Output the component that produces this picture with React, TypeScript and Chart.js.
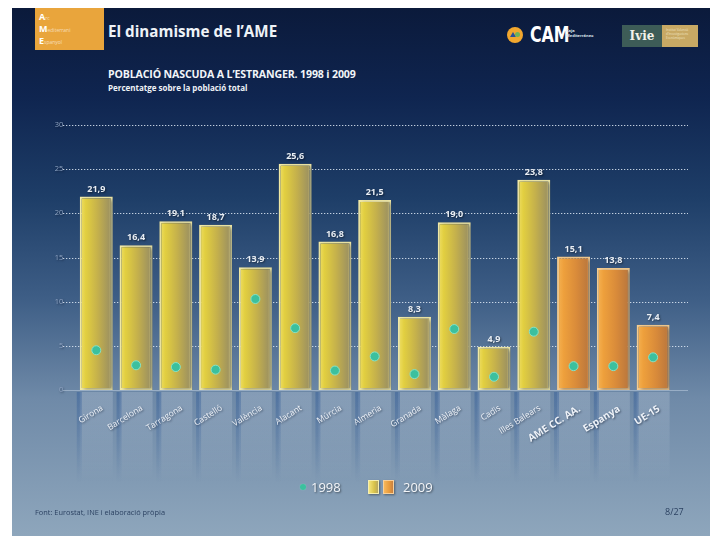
import React, { useEffect, useRef } from "react";
import { Chart, registerables } from "chart.js";

Chart.register(...registerables);

// ---------- data ----------
const categories = [
  "Girona", "Barcelona", "Tarragona", "Castelló", "València", "Alacant", "Múrcia",
  "Almeria", "Granada", "Màlaga", "Cadis", "Illes Balears", "AME CC. AA.", "Espanya", "UE-15",
];
const values2009 = [21.9, 16.4, 19.1, 18.7, 13.9, 25.6, 16.8, 21.5, 8.3, 19.0, 4.9, 23.8, 15.1, 13.8, 7.4];
const values1998 = [4.5, 2.8, 2.6, 2.3, 10.3, 7.0, 2.2, 3.8, 1.8, 6.9, 1.5, 6.6, 2.7, 2.7, 3.7];
const aggregates = ["AME CC. AA.", "Espanya", "UE-15"];
const yTicks = [0, 5, 10, 15, 20, 25, 30];
const seriesNames = ["1998", "2009"];

const isAgg = (i: number) => aggregates.includes(categories[i]);
const fmt = (v: number) => v.toFixed(1).replace(".", ",");

const FONT = "'Open Sans', 'Noto Sans', sans-serif";

function barGradient(ctx: CanvasRenderingContext2D, cx: number, hw: number, agg: boolean) {
  const g = ctx.createLinearGradient(cx - hw, 0, cx + hw, 0);
  if (agg) {
    g.addColorStop(0, "#f6b455");
    g.addColorStop(0.2, "#eea03c");
    g.addColorStop(0.6, "#d88a3a");
    g.addColorStop(0.9, "#bf7a3c");
    g.addColorStop(1, "#e0a060");
  } else {
    g.addColorStop(0, "#f0e06a");
    g.addColorStop(0.18, "#e2cf40");
    g.addColorStop(0.55, "#c4b04c");
    g.addColorStop(0.88, "#a1955e");
    g.addColorStop(1, "#d0c686");
  }
  return g;
}

const decorPlugin = {
  id: "decor",
  beforeDraw(chart: any) {
    const ctx = chart.ctx;
    const meta = chart.getDatasetMeta(0);
    const base = chart.scales.y.getPixelForValue(0);
    ctx.save();
    meta.data.forEach((el: any) => {
      const w = el.width;
      const l = el.x - w / 2;
      const g = ctx.createLinearGradient(0, base + 2, 0, base + 92);
      g.addColorStop(0, "rgba(235,240,248,0.2)");
      g.addColorStop(1, "rgba(235,240,248,0.0)");
      ctx.fillStyle = g;
      ctx.fillRect(l, base + 2, w, 90);
      const g2 = ctx.createLinearGradient(0, base + 2, 0, base + 92);
      g2.addColorStop(0, "rgba(40,85,150,0.4)");
      g2.addColorStop(1, "rgba(40,85,150,0.0)");
      ctx.fillStyle = g2;
      ctx.fillRect(l - 3, base + 2, 5, 90);
    });
    ctx.restore();
    // shadow for axis labels
    ctx.shadowColor = "rgba(10,20,40,0.55)";
    ctx.shadowBlur = 2;
    ctx.shadowOffsetX = 1;
    ctx.shadowOffsetY = 1;
  },
  beforeDatasetsDraw(chart: any) {
    const ctx = chart.ctx;
    ctx.shadowColor = "rgba(0,0,0,0)";
    ctx.shadowBlur = 0;
    ctx.shadowOffsetX = 0;
    ctx.shadowOffsetY = 0;
    const ys = chart.scales.y;
    const x0 = 63;
    const x1 = 688;
    ctx.save();
    yTicks.forEach((t) => {
      const y = Math.round(ys.getPixelForValue(t)) + 0.5;
      ctx.beginPath();
      if (t === 0) {
        ctx.setLineDash([]);
        ctx.strokeStyle = "rgba(190,206,224,0.55)";
      } else {
        ctx.setLineDash([1.3, 1.7]);
        ctx.strokeStyle = "rgba(225,234,246,0.85)";
      }
      ctx.lineWidth = 1;
      ctx.moveTo(x0, y);
      ctx.lineTo(x1, y);
      ctx.stroke();
    });
    ctx.restore();
  },
  beforeDatasetDraw(chart: any, args: any) {
    if (args.index === 0) {
      const ctx = chart.ctx;
      ctx.save();
      ctx.shadowColor = "rgba(5,15,35,0.45)";
      ctx.shadowBlur = 4;
      ctx.shadowOffsetX = 2;
      ctx.shadowOffsetY = 1;
    }
  },
  afterDatasetDraw(chart: any, args: any) {
    if (args.index === 0) chart.ctx.restore();
  },
  afterDatasetsDraw(chart: any) {
    const ctx = chart.ctx;
    const meta = chart.getDatasetMeta(0);
    ctx.save();
    ctx.font = `bold 9px ${FONT}`;
    ctx.fillStyle = "#e9eef4";
    ctx.textAlign = "center";
    ctx.textBaseline = "bottom";
    ctx.shadowColor = "rgba(0,0,0,0.5)";
    ctx.shadowBlur = 2;
    ctx.shadowOffsetX = 1;
    ctx.shadowOffsetY = 1;
    meta.data.forEach((el: any, i: number) => {
      ctx.fillText(fmt(values2009[i]), el.x, el.y - 3);
    });
    ctx.restore();
  },
};

function App() {
  const ref = useRef<HTMLCanvasElement | null>(null);

  useEffect(() => {
    if (!ref.current) return;
    const chart = new Chart(ref.current, {
      type: "bar",
      data: {
        labels: categories,
        datasets: [
          {
            type: "bar",
            label: seriesNames[1],
            data: values2009,
            order: 2,
            barPercentage: 0.83,
            categoryPercentage: 1,
            borderWidth: 2,
            borderSkipped: false,
            borderColor: (c: any) => (isAgg(c.dataIndex) ? "#f8cf92" : "#f4eca8"),
            backgroundColor: (c: any) => {
              const ch = c.chart;
              const xs = ch.scales?.x;
              if (!xs || c.dataIndex === undefined || !ch.chartArea) return "#e0cc40";
              const cx = xs.getPixelForValue(c.dataIndex);
              const hw = (xs.width / categories.length) * 0.83 / 2;
              return barGradient(ch.ctx, cx, hw, isAgg(c.dataIndex));
            },
          } as any,
          {
            type: "line",
            label: seriesNames[0],
            data: values1998,
            order: 1,
            showLine: false,
            pointRadius: 4.5,
            pointBackgroundColor: "#3cc09e",
            pointBorderColor: "#86e2c6",
            pointBorderWidth: 1,
          } as any,
        ],
      },
      options: {
        responsive: false,
        animation: false,
        devicePixelRatio: 1,
        layout: { padding: { top: 125, right: 37, bottom: 0, left: 0 } },
        plugins: {
          legend: { display: false },
          tooltip: { enabled: false },
          title: { display: false },
        },
        scales: {
          x: {
            type: "category",
            offset: true,
            grid: { display: false },
            border: { display: false },
            ticks: {
              autoSkip: false,
              minRotation: 32,
              maxRotation: 32,
              padding: 5,
              labelOffset: 6,
              color: "#eef2f8",
              font: (c: any) =>
                isAgg(c.index)
                  ? { family: FONT, size: 10, weight: "bold" }
                  : { family: FONT, size: 8.5, weight: "normal" },
            },
            afterFit: (s: any) => {
              s.height = 146;
            },
          } as any,
          y: {
            min: 0,
            max: 30,
            grid: { display: false, drawTicks: false },
            border: { display: false },
            ticks: {
              stepSize: 5,
              padding: 13,
              color: "#8ea3c2",
              font: { family: FONT, size: 7.5 },
            },
            afterFit: (s: any) => {
              s.width = 76.4;
            },
          } as any,
        },
      },
      plugins: [decorPlugin],
    });
    return () => chart.destroy();
  }, []);

  const shadow = "1px 1px 2px rgba(0,0,0,0.55)";

  return (
    <div
      style={{
        position: "fixed",
        left: 0,
        top: 0,
        width: 710,
        height: 536,
        background: "#ffffff",
        overflow: "hidden",
        fontFamily: FONT,
      }}
    >
      <div
        style={{
          position: "absolute",
          left: 12,
          top: 8,
          right: 0,
          bottom: 0,
          background:
            "linear-gradient(to bottom, #0b1a3b 0%, #0f2550 17%, #1e3e68 36%, #3e5e86 55%, #6f8aa8 74%, #8ea6bc 100%)",
        }}
      />
      {/* AME logo */}
      <div
        style={{
          position: "absolute",
          left: 35,
          top: 8,
          width: 69,
          height: 42,
          background: "#e9a53c",
          color: "#fff",
          fontSize: 9,
          fontWeight: 700,
          lineHeight: "13px",
        }}
      >
        <div style={{ position: "absolute", left: 4, top: 2 }}>
          A<span style={{ fontSize: 5, fontWeight: 400, opacity: 0.6 }}>rc</span>
        </div>
        <div style={{ position: "absolute", left: 4, top: 14 }}>
          M<span style={{ fontSize: 5, fontWeight: 400, opacity: 0.6 }}>editerrani</span>
        </div>
        <div style={{ position: "absolute", left: 4, top: 26 }}>
          E<span style={{ fontSize: 5, fontWeight: 400, opacity: 0.6 }}>spanyol</span>
        </div>
      </div>
      <div
        style={{
          position: "absolute",
          left: 108,
          top: 21,
          fontSize: 15.2,
          fontWeight: 700,
          color: "#eef2f7",
          whiteSpace: "nowrap",
          lineHeight: "21px",
        }}
      >
        El dinamisme de l’AME
      </div>
      {/* CAM logo */}
      <div
        style={{
          position: "absolute",
          left: 507,
          top: 27,
          width: 16,
          height: 16,
          borderRadius: 8,
          background: "#f2a72e",
        }}
      >
        <div
          style={{
            position: "absolute",
            left: 3,
            top: 5,
            width: 0,
            height: 0,
            borderLeft: "3px solid transparent",
            borderRight: "3px solid transparent",
            borderBottom: "5px solid #2a4f9a",
          }}
        />
        <div
          style={{
            position: "absolute",
            left: 8,
            top: 5,
            width: 5,
            height: 5,
            borderRadius: 3,
            background: "#6fb35a",
          }}
        />
      </div>
      <div
        style={{
          position: "absolute",
          left: 530,
          top: 22,
          fontFamily: "'Liberation Sans Narrow', 'DejaVu Sans Condensed', sans-serif",
          fontSize: 22,
          fontWeight: 700,
          color: "#ffffff",
          lineHeight: "26px",
          transform: "scaleX(0.8)",
          transformOrigin: "left",
        }}
      >
        CAM
      </div>
      <div
        style={{
          position: "absolute",
          left: 566,
          top: 28,
          fontSize: 4,
          fontWeight: 700,
          color: "#dfe6ee",
          lineHeight: "5px",
        }}
      >
        Caja
        <br />
        Mediterráneo
      </div>
      {/* Ivie logo */}
      <div
        style={{
          position: "absolute",
          left: 622,
          top: 25,
          width: 40,
          height: 22,
          background: "#3d5c57",
          color: "#f2f2ea",
          fontFamily: "'DejaVu Serif', 'Liberation Serif', serif",
          fontWeight: 700,
          fontSize: 12,
          lineHeight: "22px",
          textAlign: "center",
        }}
      >
        Ivie
      </div>
      <div
        style={{
          position: "absolute",
          left: 662,
          top: 25,
          width: 36,
          height: 22,
          background: "#c8a964",
          color: "#efe2c0",
          fontSize: 3,
          lineHeight: "4px",
          padding: "3px 0 0 4px",
          boxSizing: "border-box",
        }}
      >
        Institut Valencià
        <br />
        d'Investigacions
        <br />
        Econòmiques
      </div>
      <div
        style={{
          position: "absolute",
          left: 108,
          top: 67,
          fontSize: 10.6,
          fontWeight: 700,
          color: "#f2f5f9",
          whiteSpace: "nowrap",
          lineHeight: "15px",
          letterSpacing: "-0.15px",
        }}
      >
        POBLACIÓ NASCUDA A L’ESTRANGER. 1998 i 2009
      </div>
      <div
        style={{
          position: "absolute",
          left: 108,
          top: 82,
          fontSize: 8,
          fontWeight: 700,
          color: "#eef2f7",
          whiteSpace: "nowrap",
          lineHeight: "12px",
        }}
      >
        Percentatge sobre la població total
      </div>
      <canvas
        ref={ref}
        width={710}
        height={536}
        style={{ position: "absolute", left: 0, top: 0, width: 710, height: 536 }}
      />
      {/* legend */}
      <div
        style={{
          position: "absolute",
          left: 300,
          top: 484,
          width: 6,
          height: 6,
          borderRadius: 3,
          background: "#3cc09e",
          boxShadow: "0 0 1px #86e2c6",
        }}
      />
      <div
        style={{
          position: "absolute",
          left: 311,
          top: 478,
          fontSize: 13,
          color: "#f4f6f9",
          textShadow: shadow,
          lineHeight: "18px",
        }}
      >
        {seriesNames[0]}
      </div>
      <div
        style={{
          position: "absolute",
          left: 368,
          top: 480,
          width: 11,
          height: 14,
          background: "linear-gradient(to right, #f4e47a, #d8c24a 60%, #b8a860)",
          border: "1px solid #f6eeb0",
          boxSizing: "border-box",
          boxShadow: "1px 1px 2px rgba(0,0,0,0.4)",
        }}
      />
      <div
        style={{
          position: "absolute",
          left: 383,
          top: 480,
          width: 11,
          height: 14,
          background: "linear-gradient(to right, #f8b85a, #e89a3c 60%, #c88040)",
          border: "1px solid #f8d09a",
          boxSizing: "border-box",
          boxShadow: "1px 1px 2px rgba(0,0,0,0.4)",
        }}
      />
      <div
        style={{
          position: "absolute",
          left: 403,
          top: 478,
          fontSize: 13,
          color: "#f4f6f9",
          textShadow: shadow,
          lineHeight: "18px",
        }}
      >
        {seriesNames[1]}
      </div>
      {/* footer */}
      <div
        style={{
          position: "absolute",
          left: 35,
          top: 507,
          fontSize: 7.4,
          color: "#2c4262",
          whiteSpace: "nowrap",
          lineHeight: "10px",
        }}
      >
        Font: Eurostat, INE i elaboració pròpia
      </div>
      <div
        style={{
          position: "absolute",
          left: 665,
          top: 506,
          fontSize: 9,
          color: "#2c4262",
          lineHeight: "12px",
        }}
      >
        8/27
      </div>
    </div>
  );
}

export default App;
